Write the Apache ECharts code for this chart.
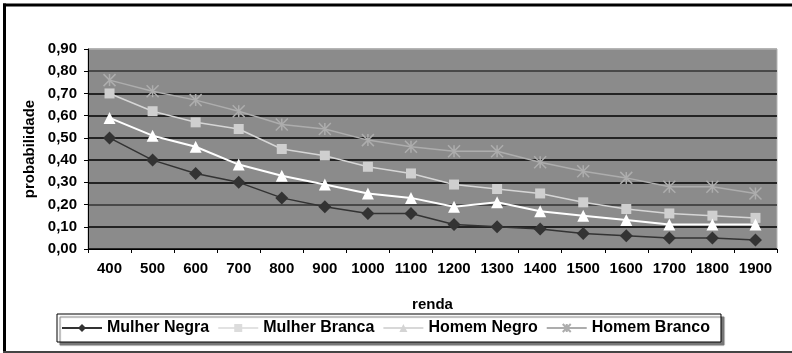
<!DOCTYPE html>
<html>
<head>
<meta charset="utf-8">
<style>
  html, body { margin: 0; padding: 0; background: #fff; }
  #chart { width: 792px; height: 353px; }
</style>
<script src="https://cdn.jsdelivr.net/npm/echarts@6/dist/echarts.min.js"></script>
</head>
<body>
<div id="chart"></div>
<script>
// Income levels (renda) on the x axis
const categories = ['400', '500', '600', '700', '800', '900', '1000', '1100', '1200', '1300', '1400', '1500', '1600', '1700', '1800', '1900'];

// Probability by income for each group
const mulherNegra  = [0.50, 0.40, 0.34, 0.30, 0.23, 0.19, 0.16, 0.16, 0.11, 0.10, 0.09, 0.07, 0.06, 0.05, 0.05, 0.04];
const mulherBranca = [0.70, 0.62, 0.57, 0.54, 0.45, 0.42, 0.37, 0.34, 0.29, 0.27, 0.25, 0.21, 0.18, 0.16, 0.15, 0.14];
const homemNegro   = [0.59, 0.51, 0.46, 0.38, 0.33, 0.29, 0.25, 0.23, 0.19, 0.21, 0.17, 0.15, 0.13, 0.11, 0.11, 0.11];
const homemBranco  = [0.76, 0.71, 0.67, 0.62, 0.56, 0.54, 0.49, 0.46, 0.44, 0.44, 0.39, 0.35, 0.32, 0.28, 0.28, 0.25];

const seriesNames = ['Mulher Negra', 'Mulher Branca', 'Homem Negro', 'Homem Branco'];

const FONT = "'Liberation Sans', Arial, sans-serif";
const STAR = 'path://M0,0L10,10M10,0L0,10M5,0L5,10';

const chart = echarts.init(document.getElementById('chart'), null, { renderer: 'canvas' });

chart.setOption({
  animation: false,
  backgroundColor: '#ffffff',
  textStyle: { fontFamily: FONT },
  grid: {
    left: 88, right: 15, top: 49, bottom: 104,
    show: true,
    backgroundColor: '#8b8b8b',
    borderColor: '#b4b4b4',
    borderWidth: 1
  },
  graphic: [
    // outer frame: heavy top and left edges, thinner bottom edge
    { type: 'line', silent: true, z: 100, shape: { x1: 3, y1: 5, x2: 792, y2: 5 }, style: { stroke: '#000', lineWidth: 3 } },
    { type: 'line', silent: true, z: 100, shape: { x1: 4.5, y1: 3.5, x2: 4.5, y2: 353 }, style: { stroke: '#000', lineWidth: 3 } },
    { type: 'line', silent: true, z: 100, shape: { x1: 3, y1: 352, x2: 792, y2: 352 }, style: { stroke: '#444', lineWidth: 2 } }
  ],
  legend: {
    data: [
      { name: seriesNames[0] },
      { name: seriesNames[1], itemStyle: { color: '#dcdcdc' }, lineStyle: { color: '#e2e2e2' } },
      { name: seriesNames[2], itemStyle: { color: '#d4d4d4' }, lineStyle: { color: '#d8d8d8' } },
      { name: seriesNames[3] }
    ],
    left: 57,
    top: 314,
    orient: 'horizontal',
    itemWidth: 40,
    itemHeight: 10,
    itemGap: 8,
    padding: [6, 11, 6, 4],
    backgroundColor: '#ffffff',
    borderColor: '#000',
    borderWidth: 1,
    borderRadius: 0,
    shadowColor: '#777',
    shadowBlur: 1,
    shadowOffsetX: 3,
    shadowOffsetY: 3,
    textStyle: { fontFamily: FONT, fontWeight: 'bold', fontSize: 16, color: '#000', padding: [0, 0, 0, 0] }
  },
  xAxis: {
    type: 'category',
    data: categories,
    boundaryGap: true,
    name: 'renda',
    nameLocation: 'middle',
    nameGap: 48,
    nameTextStyle: { fontFamily: FONT, fontWeight: 'bold', fontSize: 15, color: '#000' },
    axisLine: { show: true, lineStyle: { color: '#000', width: 1 } },
    axisTick: { show: true, alignWithLabel: false, length: 4, lineStyle: { color: '#000' } },
    axisLabel: { margin: 12, interval: 0, fontFamily: FONT, fontWeight: 'bold', fontSize: 15, color: '#000' },
    splitLine: { show: false }
  },
  yAxis: {
    type: 'value',
    min: 0,
    max: 0.9,
    interval: 0.1,
    name: 'probabilidade',
    nameLocation: 'middle',
    nameRotate: 90,
    nameGap: 51,
    nameTextStyle: { fontFamily: FONT, fontWeight: 'bold', fontSize: 15, color: '#000' },
    axisLine: { show: true, lineStyle: { color: '#000', width: 1 } },
    axisTick: { show: true, length: 4, lineStyle: { color: '#000' } },
    axisLabel: {
      margin: 11,
      fontFamily: FONT, fontWeight: 'bold', fontSize: 15, color: '#000',
      formatter: v => v.toFixed(2).replace('.', ',')
    },
    splitLine: {
      show: true,
      lineStyle: {
        width: 1.5,
        color: ['#000', '#000', '#333', '#000', '#000', '#000', '#000', '#000', '#333', '#a8a8a8']
      }
    }
  },
  series: [
    {
      name: 'Mulher Negra', type: 'line', data: mulherNegra,
      symbol: 'diamond', symbolSize: 13, showAllSymbol: true,
      lineStyle: { color: '#333', width: 1.5 },
      itemStyle: { color: '#333' },
      z: 4
    },
    {
      name: 'Mulher Branca', type: 'line', data: mulherBranca,
      symbol: 'rect', symbolSize: 10, showAllSymbol: true,
      lineStyle: { color: '#d6d6d6', width: 1.5 },
      itemStyle: { color: '#cfcfcf' },
      z: 3
    },
    {
      name: 'Homem Negro', type: 'line', data: homemNegro,
      symbol: 'triangle', symbolSize: 12, showAllSymbol: true,
      lineStyle: { color: '#ffffff', width: 2 },
      itemStyle: { color: '#ffffff' },
      z: 3
    },
    {
      name: 'Homem Branco', type: 'line', data: homemBranco,
      symbol: STAR, symbolSize: 12, showAllSymbol: true,
      lineStyle: { color: '#adadad', width: 1.5 },
      itemStyle: { color: 'none', borderColor: '#adadad', borderWidth: 1.5 },
      z: 2
    }
  ]
});
</script>
</body>
</html>
